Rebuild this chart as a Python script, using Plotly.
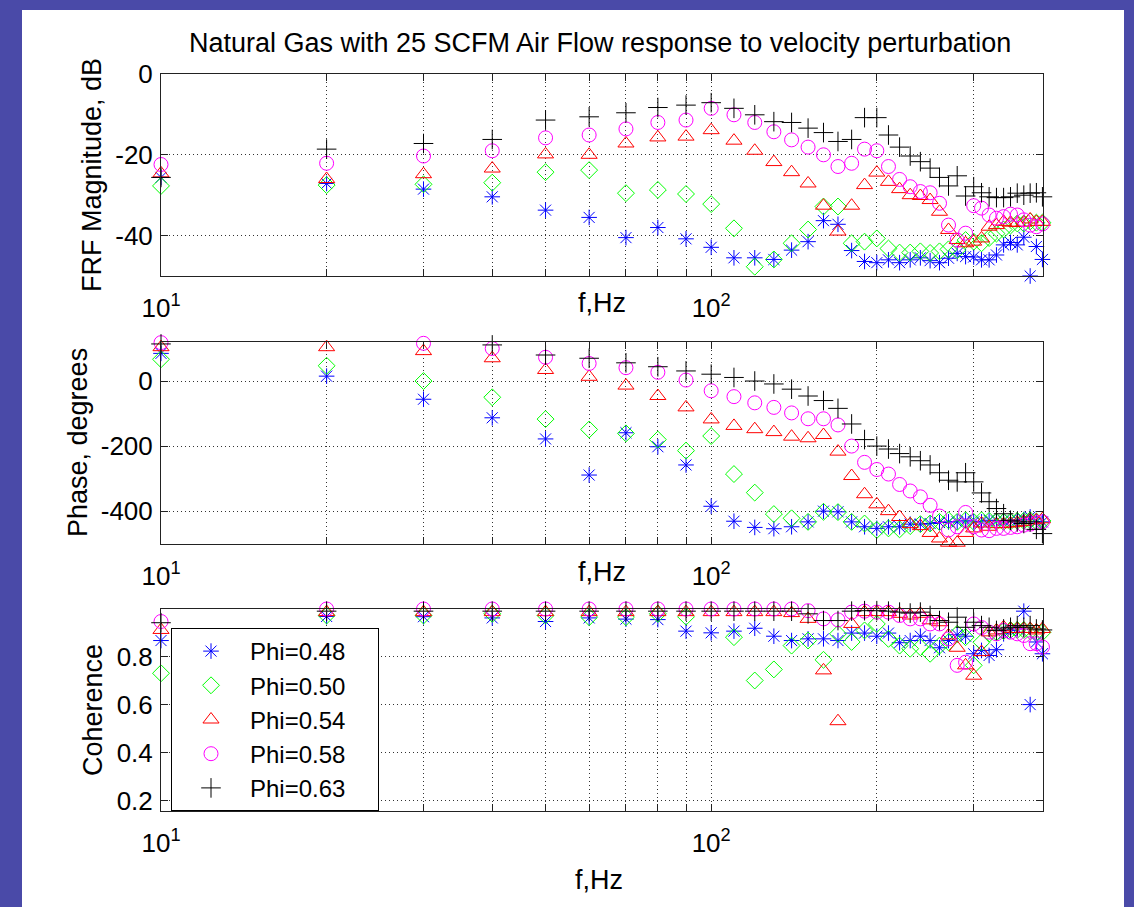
import plotly.graph_objects as go

# ---------------- data ----------------
freq = [10, 20, 30, 40, 50, 60, 70, 80, 90, 100,
        110, 120, 130, 140, 150, 160, 170, 180, 190, 200,
        210, 220, 230, 240, 250, 260, 270, 280, 290, 300,
        310, 320, 330, 340, 350, 360, 370, 380, 390, 400]

series_names = ["Phi=0.48", "Phi=0.50", "Phi=0.54", "Phi=0.58", "Phi=0.63"]

mag_048 = [-25.6, -27.1, -28.5, -30.4, -33.7, -35.5, -40.5, -38.0, -40.8, -42.9,
           -45.5, -45.5, -45.9, -43.6, -41.5, -36.3, -37.2, -43.7, -46.4, -46.7,
           -46.0, -46.7, -46.0, -45.5, -46.2, -46.7, -45.6, -44.4, -45.2, -45.3,
           -46.0, -46.0, -44.8, -42.3, -41.7, -42.3, -40.4, -50.0, -42.7, -45.9]
mag_050 = [-27.7, -27.5, -27.3, -26.9, -24.3, -23.8, -29.5, -28.7, -29.7, -32.2,
           -38.2, -47.7, -45.9, -41.9, -38.5, -32.8, -32.8, -41.9, -41.5, -40.7,
           -43.2, -44.2, -44.2, -43.9, -44.3, -43.9, -43.4, -43.6, -41.1, -41.5,
           -41.9, -40.6, -39.5, -38.5, -37.5, -37.0, -37.0, -36.5, -36.8, -36.8]
mag_054 = [-24.6, -26.0, -24.8, -23.4, -19.9, -20.0, -17.2, -15.7, -15.5, -13.9,
           -16.5, -19.0, -21.8, -24.3, -27.1, -32.6, -39.0, -32.6, -27.5, -24.4,
           -26.7, -28.5, -30.0, -30.2, -31.2, -34.1, -38.6, -41.1, -41.9, -41.5,
           -40.7, -37.8, -37.4, -36.6, -36.8, -36.9, -36.8, -36.0, -36.6, -36.6]
mag_058 = [-22.4, -22.1, -20.3, -19.0, -15.8, -15.1, -13.6, -12.0, -11.4, -8.5,
           -10.1, -12.0, -14.3, -16.3, -18.1, -20.0, -22.9, -22.1, -18.6, -19.0,
           -22.9, -26.1, -27.9, -29.1, -29.4, -32.0, -37.4, -41.1, -39.4, -32.6,
           -33.2, -34.9, -35.7, -35.3, -34.7, -34.9, -36.1, -37.4, -37.8, -37.1]
mag_063 = [-25.6, -18.6, -17.2, -16.2, -11.4, -10.6, -9.6, -8.3, -7.7, -7.1,
           -8.5, -10.1, -11.8, -12.0, -13.4, -14.5, -16.7, -16.2, -10.8, -10.8,
           -15.1, -18.1, -20.3, -21.7, -23.3, -25.6, -27.7, -25.2, -30.2, -27.9,
           -29.4, -30.4, -30.6, -30.6, -30.4, -29.5, -30.0, -29.5, -29.4, -30.4]

ph_048 = [85, 15, -56, -113, -178, -289, -159, -202, -258, -385,
          -431, -450, -454, -448, -433, -400, -402, -433, -448, -453,
          -448, -448, -440, -440, -438, -435, -433, -433, -428, -433,
          -433, -428, -430, -430, -428, -428, -426, -418, -433, -433]
ph_050 = [67, 47, 0, -50, -117, -149, -161, -180, -214, -169,
          -286, -343, -409, -422, -433, -402, -403, -433, -438, -458,
          -453, -456, -446, -440, -438, -433, -428, -433, -428, -433,
          -428, -430, -432, -433, -432, -430, -430, -428, -432, -430]
ph_054 = [104, 104, 92, 70, 34, 13, -14, -46, -81, -118,
          -138, -148, -157, -171, -176, -166, -217, -292, -348, -379,
          -400, -418, -440, -446, -467, -484, -497, -497, -467, -453,
          -438, -448, -440, -440, -438, -436, -433, -428, -428, -425]
ph_058 = [118, 125, 116, 100, 73, 54, 41, 27, 3, -30,
          -48, -67, -81, -98, -116, -116, -135, -200, -250, -272,
          -286, -318, -338, -356, -382, -415, -458, -448, -404, -448,
          -458, -460, -453, -453, -450, -448, -443, -440, -436, -433]
ph_063 = [114, 121, 124, 111, 80, 70, 56, 44, 31, 21,
          11, 0, -9, -25, -46, -60, -84, -132, -180, -200,
          -209, -223, -233, -245, -258, -282, -305, -310, -282, -310,
          -344, -371, -392, -408, -428, -433, -438, -433, -456, -469]

coh_048 = [0.866, 0.966, 0.965, 0.960, 0.945, 0.960, 0.955, 0.953, 0.905, 0.898,
           0.905, 0.917, 0.884, 0.866, 0.873, 0.873, 0.866, 0.897, 0.897, 0.884,
           0.897, 0.857, 0.866, 0.884, 0.866, 0.836, 0.866, 0.890, 0.884, 0.811,
           0.825, 0.804, 0.828, 0.894, 0.908, 0.914, 0.988, 0.600, 0.860, 0.811]
coh_050 = [0.730, 0.970, 0.970, 0.977, 0.970, 0.963, 0.963, 0.977, 0.965, 0.157,
           0.880, 0.700, 0.746, 0.845, 0.866, 0.786, 0.894, 0.860, 0.908, 0.935,
           0.873, 0.845, 0.832, 0.838, 0.811, 0.845, 0.859, 0.894, 0.880, 0.763,
           0.859, 0.894, 0.900, 0.905, 0.910, 0.910, 0.910, 0.905, 0.900, 0.900]
coh_054 = [0.910, 0.984, 0.984, 0.984, 0.984, 0.984, 0.984, 0.984, 0.984, 0.984,
           0.984, 0.984, 0.984, 0.980, 0.956, 0.742, 0.531, 0.935, 0.984, 0.984,
           0.984, 0.977, 0.970, 0.977, 0.950, 0.942, 0.887, 0.836, 0.763, 0.720,
           0.818, 0.900, 0.908, 0.921, 0.914, 0.914, 0.914, 0.914, 0.908, 0.914]
coh_058 = [0.945, 0.997, 0.997, 0.997, 0.997, 0.997, 0.997, 0.997, 0.997, 0.997,
           0.997, 0.997, 0.997, 0.997, 0.990, 0.956, 0.952, 0.984, 0.988, 0.984,
           0.984, 0.970, 0.956, 0.956, 0.935, 0.935, 0.873, 0.763, 0.776, 0.935,
           0.920, 0.901, 0.894, 0.908, 0.901, 0.894, 0.887, 0.853, 0.853, 0.839]
coh_063 = [0.940, 0.988, 0.988, 0.988, 0.988, 0.988, 0.988, 0.988, 0.988, 0.988,
           0.988, 0.988, 0.988, 0.988, 0.977, 0.949, 0.949, 0.988, 0.990, 0.990,
           0.988, 0.984, 0.980, 0.984, 0.970, 0.949, 0.942, 0.963, 0.921, 0.942,
           0.928, 0.921, 0.908, 0.914, 0.921, 0.928, 0.921, 0.928, 0.914, 0.910]

x_major_vals = [10, 100]
x_major_text = ["10<sup>1</sup>", "10<sup>2</sup>"]
x_minor_vals = [20, 30, 40, 50, 60, 70, 80, 90, 200, 300, 400]

title_text = "Natural Gas with 25 SCFM Air Flow response to velocity perturbation"
y_titles = ["FRF Magnitude, dB", "Phase, degrees", "Coherence"]
x_title = "f,Hz"

# ---------------- styling ----------------
colors = ["#0000ff", "#00ff00", "#ff0000", "#ff00ff", "#000000"]
symbols = ["asterisk-open", "diamond-open", "triangle-up-open", "circle-open", "cross-thin-open"]
sizes = [13, 13, 14, 14, 14]
FONT = "Liberation Sans, Arial, Helvetica, sans-serif"
SLIDE = "#4a4aa8"
GRID = "#333333"
GRIDDASH = "1px,3px"
AXIS = "#222222"
LEGEND_PAD = "&nbsp;" * 4   # widens the legend box like the reference

W, H = 1134, 907
L, R, T, B = 161, 1043, 74, 811
PW, PH = R - L, B - T

def px_x(x):
    return (x - L) / PW

def px_y(y):
    return (B - y) / PH

panels = [(74, 276), (342, 544), (609, 811)]
mags = [mag_048, mag_050, mag_054, mag_058, mag_063]
phs = [ph_048, ph_050, ph_054, ph_058, ph_063]
cohs = [coh_048, coh_050, coh_054, coh_058, coh_063]
datasets = [mags, phs, cohs]

fig = go.Figure()
for p, data in enumerate(datasets):
    xa = "x" if p == 0 else f"x{p+1}"
    ya = "y" if p == 0 else f"y{p+1}"
    for i in range(5):
        fig.add_trace(go.Scatter(
            x=freq, y=data[i], mode="markers", name=series_names[i] + LEGEND_PAD,
            showlegend=(p == 2),
            marker=dict(symbol=symbols[i], size=sizes[i], color=colors[i],
                        line=dict(color=colors[i], width=1)),
            cliponaxis=False, xaxis=xa, yaxis=ya))

y_ranges = [[-50, 0], [-501, 120], [0.158, 0.997]]
y_ticks = [[-40, -20, 0], [-400, -200, 0], [0.2, 0.4, 0.6, 0.8]]
y_tick_text = [["-40", "-20", "0"], ["-400", "-200", "0"], ["0.2", "0.4", "0.6", "0.8"]]

layout = dict(
    width=W, height=H,
    margin=dict(l=L, r=W - R, t=T, b=H - B, pad=0),
    paper_bgcolor=SLIDE, plot_bgcolor="white",
    font=dict(family=FONT, size=26, color="black"),
    showlegend=True,
    legend=dict(x=px_x(171), y=px_y(628), xanchor="left", yanchor="top",
                bgcolor="white", bordercolor="black", borderwidth=1,
                font=dict(size=24), itemwidth=68, tracegroupgap=0,
                traceorder="normal"),
)

for p, (top, bot) in enumerate(panels):
    xk = "xaxis" if p == 0 else f"xaxis{p+1}"
    yk = "yaxis" if p == 0 else f"yaxis{p+1}"
    anchor_y = "y" if p == 0 else f"y{p+1}"
    anchor_x = "x" if p == 0 else f"x{p+1}"
    layout[xk] = dict(
        type="log", range=[1, 2.6031], domain=[0, 1], anchor=anchor_y,
        tickmode="array", tickvals=x_major_vals, ticktext=x_major_text,
        showgrid=True, gridcolor=GRID, griddash=GRIDDASH, gridwidth=1,
        minor=dict(tickmode="array", tickvals=x_minor_vals, ticks="inside",
                   ticklen=7, tickcolor=AXIS, showgrid=True, gridcolor=GRID,
                   griddash=GRIDDASH, gridwidth=1),
        showline=True, linecolor=AXIS, linewidth=1, mirror="ticks",
        ticks="inside", ticklen=7, tickcolor=AXIS,
        zeroline=False, ticklabelstandoff=9,
        tickfont=dict(size=26))
    layout[yk] = dict(
        range=y_ranges[p], domain=[px_y(bot), px_y(top)], anchor=anchor_x,
        tickmode="array", tickvals=y_ticks[p], ticktext=y_tick_text[p],
        showgrid=True, gridcolor=GRID, griddash=GRIDDASH, gridwidth=1,
        showline=True, linecolor=AXIS, linewidth=1, mirror="ticks",
        ticks="inside", ticklen=7, tickcolor=AXIS,
        zeroline=False, ticklabelstandoff=2,
        tickfont=dict(size=26))

fig.update_layout(**layout)

# white page on the purple slide background
fig.add_shape(type="rect", xref="paper", yref="paper",
              x0=px_x(22), x1=px_x(1124), y0=px_y(H + 5), y1=px_y(10),
              fillcolor="white", line=dict(width=0), layer="below")

annotations = [
    dict(text=title_text, x=px_x(600), y=px_y(43), font=dict(size=27)),
    dict(text=y_titles[0], x=px_x(92), y=px_y(175), textangle=-90, font=dict(size=27)),
    dict(text=y_titles[1], x=px_x(78), y=px_y(443), textangle=-90, font=dict(size=27)),
    dict(text=y_titles[2], x=px_x(93), y=px_y(710), textangle=-90, font=dict(size=27)),
    dict(text=x_title, x=px_x(602), y=px_y(303), font=dict(size=27)),
    dict(text=x_title, x=px_x(602), y=px_y(572), font=dict(size=27)),
    dict(text=x_title, x=px_x(599), y=px_y(880), font=dict(size=27)),
]
for a in annotations:
    fig.add_annotation(xref="paper", yref="paper", showarrow=False,
                       xanchor="center", yanchor="middle", **a)

fig.write_html(
    "out.html",
    config={"displayModeBar": False},
    post_script=("document.body.style.margin='0';"
                 "document.body.style.overflow='hidden';"
                 f"document.body.style.background='{SLIDE}';"),
)
